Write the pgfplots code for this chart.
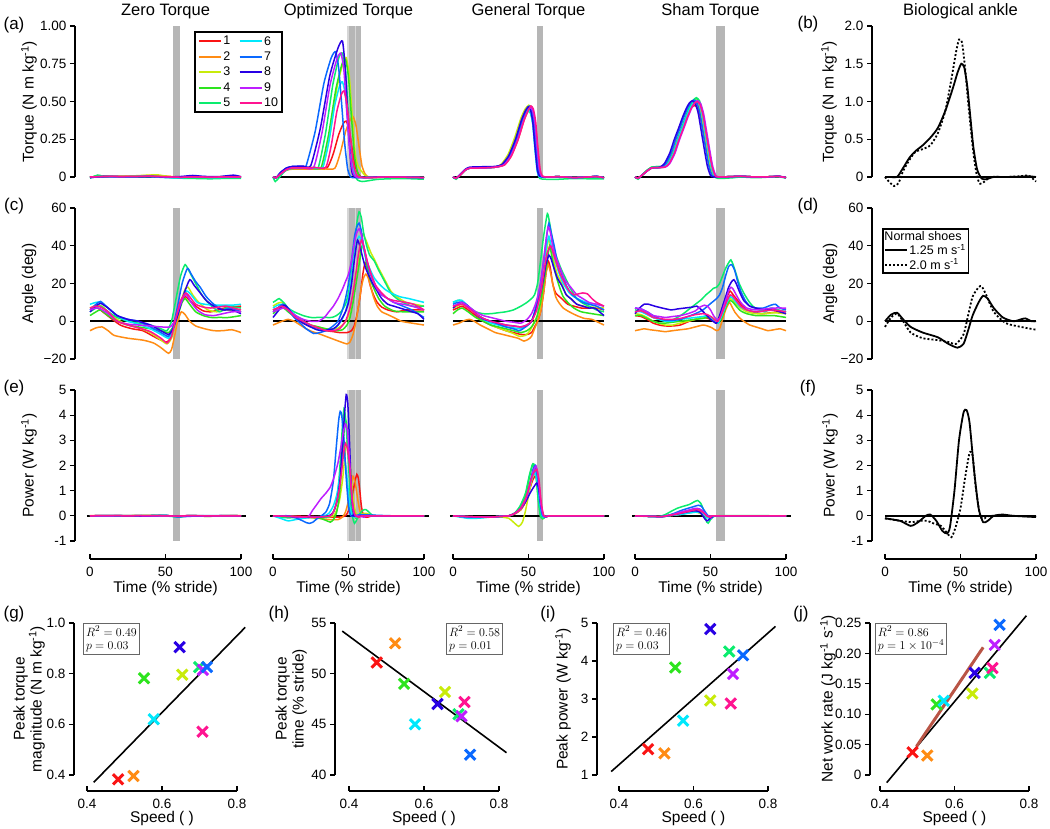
\documentclass[border=0pt]{standalone}
\usepackage{pgfplots}
\pgfplotsset{compat=1.18}
\usepackage{fontspec}
\setmainfont{Liberation Sans}
\definecolor{c1}{RGB}{250,20,20}
\definecolor{c2}{RGB}{255,140,20}
\definecolor{c3}{RGB}{200,235,10}
\definecolor{c4}{RGB}{45,228,30}
\definecolor{c5}{RGB}{10,236,110}
\definecolor{c6}{RGB}{0,232,252}
\definecolor{c7}{RGB}{10,105,255}
\definecolor{c8}{RGB}{40,0,228}
\definecolor{c9}{RGB}{190,30,255}
\definecolor{c10}{RGB}{255,20,145}
\definecolor{barg}{RGB}{182,182,182}
\definecolor{barl}{RGB}{214,214,214}
\definecolor{brownl}{RGB}{185,85,70}
\pgfplotsset{
  base/.style={scale only axis, clip=false, tick align=outside, major tick length=5pt,
    axis line style={line width=1.8pt, black},
    every tick/.style={black, line width=1.3pt},
    every major x tick/.append style={yshift=5pt},
    tick label style={font=\fontsize{13.5}{14}\selectfont},
    title style={font=\fontsize{16.5}{18}\selectfont, at={(0.5,1)}, anchor=base, yshift=4pt},
    /pgf/number format/assume math mode=true},
  tp/.style={base, width=151pt, height=151pt, xmin=0, xmax=100},
  ylab/.style={ylabel style={font=\fontsize{15.5}{17}\selectfont, at={([xshift=#1]axis description cs:0,0.5)}, anchor=center}},
  tx/.style={axis x line*=bottom, axis x line shift=18pt, xtick={0,50,100}, xticklabels={0,50,100},
    xlabel={Time (\% stride)}, xlabel style={font=\fontsize{15.5}{17}\selectfont, at={(axis description cs:0.5,0)}, anchor=base, yshift=-52pt}},
  cv/.style={line width=1.5pt, forget plot, smooth, tension=0.35},
  bar/.style={draw=none, fill=barg, forget plot},
  zl/.style={black, line width=1.8pt, forget plot},
  sc/.style={base, width=150pt, height=152pt, xmin=0.4, xmax=0.8, xtick={0.4,0.6,0.8}, xticklabels={0.4,0.6,0.8},
    axis x line*=bottom, axis y line*=left, axis x line shift=16pt,
    xlabel={Speed ( )}, xlabel style={font=\fontsize{15.5}{17}\selectfont, at={(axis description cs:0.5,0)}, anchor=base, yshift=-48pt}},
  mk/.style={only marks, mark=x, mark size=7.3pt, line width=3pt, forget plot},
  rl/.style={black, line width=1.6pt, forget plot},
}
\tikzset{rbox/.style={draw=black!60, line width=1.1pt, fill=white, align=left, inner sep=2.5pt, font=\fontsize{12.5}{13.5}\selectfont}}
\begin{document}
\begin{tikzpicture}[x=1pt,y=1pt]
\path[use as bounding box] (0,0) rectangle (1050,829);
\foreach \t/\x/\y in {(a)/14/804,(b)/808/805,(c)/14/623,(d)/808/623,(e)/14/441,(f)/808/441,(g)/14/215,(h)/279/215,(i)/548/215,(j)/801/215}
  {\node[font=\fontsize{17}{18}\selectfont] at (\x,\y) {\t};}

% ================= ROW 1 : TORQUE =================
\begin{axis}[tp, at={(90pt,652pt)}, anchor=south west, ymin=0, ymax=1, hide x axis, axis y line*=left, axis y line shift=15pt,
  ytick={0,0.25,0.5,0.75,1}, yticklabels={0,0.25,0.50,0.75,1.00}, ylabel={Torque (N m kg\textsuperscript{-1})}, ylab=-61pt, title={Zero Torque}]
\addplot[bar] coordinates {(55,0)(59.8,0)(59.8,1)(55,1)} -- cycle;
\addplot[zl] coordinates {(0,0)(100,0)};
\addplot[cv,c1] coordinates {(0,0)(10,0.003)(20,0.002)(30,0.004)(40,0.006)(50,0.004)(60,-0.003)(70,0)(80,-0.002)(90,0)(100,-0.002)};
\addplot[cv,c2] coordinates {(0,-0.002)(10,0.004)(20,0.005)(30,0.006)(40,0.01)(50,0.005)(60,0)(70,-0.004)(80,-0.003)(90,-0.002)(100,0)};
\addplot[cv,c3] coordinates {(0,0)(10,0.005)(20,0.004)(30,0.008)(40,0.013)(45,0.014)(50,0.006)(60,-0.005)(70,-0.003)(80,0)(90,0.002)(100,-0.003)};
\addplot[cv,c4] coordinates {(0,-0.005)(5,0.01)(10,0.004)(20,0)(30,0.003)(40,0.005)(50,0)(60,-0.006)(70,-0.005)(80,-0.008)(90,-0.006)(100,-0.007)};
\addplot[cv,c5] coordinates {(0,-0.008)(5,0.012)(10,0.003)(20,0.002)(30,0.001)(40,0.004)(50,-0.002)(60,-0.008)(70,-0.01)(80,-0.012)(90,-0.009)(100,-0.01)};
\addplot[cv,c6] coordinates {(0,0)(10,0.002)(20,0)(30,0.003)(40,0.002)(50,-0.004)(60,-0.006)(70,0)(80,-0.004)(90,-0.003)(100,-0.002)};
\addplot[cv,c7] coordinates {(0,-0.003)(10,0.002)(20,0.001)(30,0.002)(40,0.003)(50,-0.002)(60,-0.003)(68,0.006)(75,0.002)(85,0)(95,0.008)(100,0)};
\addplot[cv,c8] coordinates {(0,-0.004)(10,0.004)(20,0.003)(30,0.002)(40,0.004)(50,0)(60,0.003)(68,0.01)(75,0.004)(85,0.002)(95,0.012)(100,0.002)};
\addplot[cv,c9] coordinates {(0,0)(10,0.003)(20,0.002)(30,0.003)(40,0.004)(50,0.001)(60,-0.002)(70,0)(80,-0.002)(90,0)(100,-0.001)};
\addplot[cv,c10] coordinates {(0,0)(10,0.004)(20,0.003)(30,0.004)(40,0.005)(50,0.002)(60,-0.002)(70,0.001)(80,-0.001)(90,0.001)(100,0)};
\end{axis}

\begin{axis}[tp, at={(273pt,652pt)}, anchor=south west, ymin=0, ymax=1, hide axis, title={Optimized Torque},
  legend columns=2, legend cell align=left,
  legend style={at={(-0.52,0.965)}, anchor=north west, draw=black, line width=1.8pt, font=\fontsize{12.5}{12.5}\selectfont,
    inner sep=2.5pt, row sep=2pt, nodes={inner sep=1.6pt}, /tikz/every even column/.append style={column sep=7pt}},
  legend image code/.code={\draw[#1, line width=1.8pt] (0pt,0pt) -- (22pt,0pt);},
  legend entries={1,6,2,7,3,8,4,9,5,10}]
\addlegendimage{c1}\addlegendimage{c6}\addlegendimage{c2}\addlegendimage{c7}\addlegendimage{c3}
\addlegendimage{c8}\addlegendimage{c4}\addlegendimage{c9}\addlegendimage{c5}\addlegendimage{c10}
\addplot[bar] coordinates {(48.7,0)(58,0)(58,1)(48.7,1)} -- cycle;
\addplot[bar,fill=barl] coordinates {(49.3,0)(50,0)(50,1)(49.3,1)} -- cycle;
\addplot[bar,fill=barl] coordinates {(54,0)(54.6,0)(54.6,1)(54,1)} -- cycle;
\addplot[zl] coordinates {(0,0)(100,0)};
\addplot[cv,c1] coordinates {(0,0)(2,-0.005)(5,0.02)(9,0.05)(13,0.058)(20,0.058)(30,0.058)(36,0.062)(39.8,0.15)(43.5,0.28)(46.6,0.355)(48.5,0.37)(50.5,0.31)(52.5,0.18)(54.5,0.07)(56.5,0.02)(58.5,0)(62,-0.005)(75,0)(90,-0.003)(100,-0.005)};
\addplot[cv,c2] coordinates {(0,0)(2,-0.005)(5,0.02)(9,0.045)(13,0.052)(25,0.052)(35,0.053)(41,0.058)(44.6,0.16)(48.2,0.305)(51.2,0.38)(53,0.40)(55,0.34)(57,0.2)(59,0.07)(61,0.02)(63,0)(66,-0.005)(75,0)(90,-0.003)(100,-0.005)};
\addplot[cv,c3] coordinates {(0,0)(2,-0.005)(5,0.02)(9,0.05)(13,0.06)(20,0.06)(28,0.062)(33,0.065)(37.7,0.28)(42.3,0.59)(46.2,0.75)(48.5,0.79)(50.5,0.67)(52.5,0.4)(54.5,0.15)(56.5,0.07)(58.5,0.04)(61,0.01)(64,0)(75,0)(90,-0.003)(100,-0.005)};
\addplot[cv,c4] coordinates {(0,0)(2,-0.005)(5,0.02)(9,0.05)(13,0.06)(20,0.06)(28,0.062)(32,0.065)(36.8,0.28)(41.6,0.58)(45.6,0.745)(48,0.78)(50,0.66)(52,0.39)(54,0.14)(56,0.03)(58,0)(62,-0.005)(75,0)(90,-0.004)(100,-0.006)};
\addplot[cv,c5] coordinates {(0,0)(1.5,-0.03)(4,-0.005)(8,0.04)(12,0.055)(20,0.058)(26,0.06)(30,0.063)(34.8,0.29)(39.6,0.61)(43.6,0.79)(46,0.82)(48,0.70)(50,0.41)(52,0.15)(54,0.02)(56,-0.02)(59,-0.03)(63,-0.025)(70,-0.015)(85,-0.01)(100,-0.015)};
\addplot[cv,c6] coordinates {(0,0)(2,-0.005)(5,0.02)(9,0.05)(13,0.06)(20,0.06)(28,0.062)(33,0.065)(36.9,0.23)(40.8,0.47)(44,0.60)(46,0.63)(48,0.54)(50,0.32)(52,0.11)(54,0.02)(56,0)(62,-0.004)(75,0)(90,-0.002)(100,-0.004)};
\addplot[cv,c7] coordinates {(0,0)(2,-0.005)(5,0.03)(9,0.06)(13,0.07)(20,0.07)(22,0.075)(27.9,0.30)(33.7,0.62)(38.6,0.79)(41.5,0.83)(43.5,0.72)(45.5,0.48)(47.5,0.22)(49.5,0.05)(51.5,0)(55,-0.005)(75,0)(90,-0.002)(100,-0.004)};
\addplot[cv,c8] coordinates {(0,0)(2,-0.005)(5,0.03)(9,0.06)(13,0.07)(20,0.072)(25,0.075)(31.3,0.32)(37.6,0.67)(42.9,0.85)(46,0.90)(48,0.70)(50,0.30)(52,0.05)(54,0)(60,-0.003)(75,0)(90,-0.002)(100,-0.004)};
\addplot[cv,c9] coordinates {(0,0)(2,-0.005)(5,0.02)(9,0.05)(13,0.06)(20,0.06)(27,0.065)(32.4,0.29)(37.8,0.61)(42.3,0.78)(45,0.82)(47,0.70)(49,0.41)(51,0.15)(53,0.03)(55,0)(62,-0.004)(75,0)(90,-0.002)(100,-0.004)};
\addplot[cv,c10] coordinates {(0,0)(2,-0.005)(5,0.02)(9,0.05)(13,0.06)(20,0.06)(28,0.062)(35,0.065)(38.6,0.21)(42.2,0.43)(45.2,0.545)(47,0.57)(49,0.48)(51,0.29)(53,0.10)(55,0.02)(57,0)(62,-0.004)(75,0)(90,-0.002)(100,-0.004)};
\end{axis}

\begin{axis}[tp, at={(453pt,652pt)}, anchor=south west, ymin=0, ymax=1, hide axis, title={General Torque}]
\addplot[bar] coordinates {(55.4,0)(59.4,0)(59.4,1)(55.4,1)} -- cycle;
\addplot[zl] coordinates {(0,0)(100,0)};
\addplot[cv,c1] coordinates {(0,0)(2,-0.008)(5,0.015)(8,0.045)(11,0.058)(20,0.06)(28,0.065)(33.5,0.08)(38,0.14)(42.5,0.25)(46.5,0.38)(49,0.44)(51,0.47)(52.5,0.45)(54,0.37)(55.5,0.2)(57,0.05)(58.5,0.005)(62.5,0)(70,0.002)(80,-0.004)(90,0)(95,0.003)(100,-0.005)};
\addplot[cv,c2] coordinates {(0,0)(2,-0.008)(5,0.015)(8,0.045)(11,0.058)(20,0.06)(28,0.065)(34,0.08)(38.5,0.137)(43,0.245)(47,0.372)(49.5,0.431)(51.5,0.46)(53,0.441)(54.5,0.363)(56,0.196)(57.5,0.049)(59,0.005)(63,0)(70,0.002)(80,-0.004)(90,0)(95,0.003)(100,-0.005)};
\addplot[cv,c3] coordinates {(0,0)(2,-0.008)(5,0.015)(8,0.045)(11,0.058)(20,0.06)(28,0.065)(32,0.085)(36.5,0.15)(41,0.265)(45,0.39)(47.8,0.45)(50.2,0.475)(51.8,0.45)(53.4,0.37)(55,0.2)(56.5,0.05)(58,0.005)(62,0)(70,0.002)(80,-0.004)(90,0)(95,0.003)(100,-0.005)};
\addplot[cv,c4] coordinates {(0,0)(2,-0.01)(5,0.015)(8,0.045)(11,0.06)(20,0.062)(28,0.066)(32.5,0.08)(37,0.134)(41.5,0.24)(45.5,0.365)(48,0.422)(50,0.451)(51.5,0.432)(53,0.355)(54.5,0.192)(56,0.048)(57.5,0.005)(61.5,0)(70,0.002)(80,-0.004)(90,0)(95,0.003)(100,-0.005)};
\addplot[cv,c5] coordinates {(0,0)(2,-0.015)(5,0.015)(8,0.045)(11,0.06)(20,0.062)(28,0.066)(32.5,0.08)(37,0.13)(41.5,0.233)(45.5,0.353)(48,0.409)(50,0.437)(51.5,0.419)(53,0.344)(54.5,0.186)(56,0.04)(57.5,-0.01)(61.5,-0.015)(70,-0.015)(80,-0.01)(90,-0.012)(100,-0.012)};
\addplot[cv,c6] coordinates {(0,0)(2,-0.008)(5,0.015)(8,0.045)(11,0.058)(20,0.06)(28,0.065)(32.3,0.08)(36.8,0.133)(41.3,0.238)(45.3,0.361)(47.8,0.418)(49.8,0.447)(51.3,0.428)(52.8,0.35)(54.3,0.18)(55.8,0.035)(57.3,0)(61.3,0)(70,0.002)(80,-0.004)(90,0)(95,0.003)(100,-0.005)};
\addplot[cv,c7] coordinates {(0,0)(2,-0.008)(5,0.015)(8,0.045)(11,0.058)(20,0.06)(28,0.065)(33,0.08)(37.5,0.14)(42,0.25)(46,0.38)(48.5,0.44)(50.5,0.47)(52,0.45)(53.5,0.37)(55,0.20)(56.5,0.05)(58,0.005)(62,0)(70,0.002)(80,-0.004)(90,0)(95,0.005)(100,-0.005)};
\addplot[cv,c8] coordinates {(0,0)(2,-0.008)(5,0.02)(8,0.05)(11,0.065)(20,0.068)(28,0.07)(32.3,0.082)(36.8,0.139)(41.3,0.248)(45.3,0.376)(47.8,0.436)(49.8,0.465)(51.3,0.446)(52.8,0.366)(54.3,0.198)(55.8,0.05)(57.3,0.005)(61.3,0)(70,0.002)(80,-0.004)(90,0)(95,0.004)(100,-0.005)};
\addplot[cv,c9] coordinates {(0,0)(2,-0.008)(5,0.015)(8,0.045)(11,0.058)(20,0.06)(28,0.065)(33.7,0.08)(38.2,0.137)(42.7,0.245)(46.7,0.372)(49.2,0.431)(51.2,0.46)(52.7,0.441)(54.2,0.363)(55.7,0.196)(57.2,0.049)(58.7,0.005)(62.7,0)(70,0.002)(80,-0.004)(90,0)(95,0.003)(100,-0.005)};
\addplot[cv,c10] coordinates {(0,0)(2,-0.008)(5,0.015)(8,0.045)(11,0.058)(20,0.06)(28,0.065)(34.2,0.08)(38.7,0.14)(43.2,0.25)(47.2,0.38)(49.7,0.44)(51.7,0.47)(53.2,0.45)(54.7,0.37)(56.2,0.2)(57.7,0.05)(59.2,0.005)(63.2,0)(70,0.002)(80,-0.004)(90,0)(95,0.003)(100,-0.005)};
\end{axis}

\begin{axis}[tp, at={(635pt,652pt)}, anchor=south west, ymin=0, ymax=1, hide axis, title={Sham Torque}]
\addplot[bar] coordinates {(53.7,0)(59.9,0)(59.9,1)(53.7,1)} -- cycle;
\addplot[zl] coordinates {(0,0)(100,0)};
\addplot[cv,c1] coordinates {(0,0)(2,-0.008)(5,0.015)(8,0.04)(11,0.06)(14,0.062)(18,0.065)(21,0.084)(24.5,0.149)(27.5,0.233)(30.5,0.307)(33,0.372)(35.5,0.428)(37.5,0.46)(39.5,0.474)(41.5,0.456)(43.5,0.39)(46,0.251)(48,0.14)(49.5,0.065)(51.5,0.01)(54,0)(65,0.003)(70,0.005)(80,0)(90,0.002)(95,0.004)(100,-0.004)};
\addplot[cv,c2] coordinates {(0,0)(2,-0.008)(5,0.015)(8,0.04)(11,0.06)(14,0.062)(18.5,0.065)(21.5,0.086)(25,0.154)(28,0.24)(31,0.317)(33.5,0.384)(36,0.442)(38,0.475)(40,0.49)(42,0.47)(44,0.403)(46.5,0.259)(48.5,0.144)(50,0.067)(52,0.01)(54.5,0)(65,0.003)(70,0.005)(80,0)(90,0.002)(95,0.004)(100,-0.004)};
\addplot[cv,c3] coordinates {(0,0)(2,-0.008)(5,0.015)(8,0.04)(11,0.06)(14,0.062)(18.5,0.065)(21.5,0.088)(25,0.157)(28,0.245)(31,0.323)(33.5,0.392)(36,0.451)(38,0.485)(40,0.50)(42,0.48)(44,0.412)(46.5,0.265)(48.5,0.147)(50,0.069)(52,0.01)(54.5,0)(65,0.003)(70,0.005)(80,0)(90,0.002)(95,0.004)(100,-0.004)};
\addplot[cv,c4] coordinates {(0,0)(2,-0.01)(5,0.015)(8,0.045)(11,0.065)(14,0.068)(19,0.07)(22,0.092)(25.5,0.163)(28.5,0.255)(31.5,0.337)(34,0.408)(36.5,0.469)(38.5,0.505)(40.5,0.52)(42.5,0.50)(44.5,0.428)(47,0.275)(49,0.153)(50.5,0.071)(52.5,0.01)(55,0)(65,0.003)(70,0.005)(80,0)(90,0.002)(95,0.004)(100,-0.004)};
\addplot[cv,c5] coordinates {(0,0)(2,-0.015)(5,0.015)(8,0.045)(11,0.065)(14,0.068)(19.2,0.07)(22.2,0.093)(25.7,0.165)(28.7,0.258)(31.7,0.34)(34.2,0.412)(36.7,0.474)(38.7,0.51)(40.7,0.525)(42.7,0.505)(44.7,0.433)(47.2,0.278)(49.2,0.155)(50.7,0.072)(52.7,0.005)(55.2,-0.01)(65,-0.005)(70,0)(80,-0.005)(90,0)(95,0.002)(100,-0.008)};
\addplot[cv,c6] coordinates {(0,0)(2,-0.008)(5,0.015)(8,0.04)(11,0.06)(14,0.062)(19,0.065)(22,0.089)(25.5,0.158)(28.5,0.248)(31.5,0.327)(34,0.396)(36.5,0.455)(38.5,0.49)(40.5,0.505)(42.5,0.485)(44.5,0.416)(47,0.267)(49,0.149)(50.5,0.069)(52.5,0.01)(55,0)(65,0.003)(70,0.005)(80,0)(90,0.002)(95,0.004)(100,-0.004)};
\addplot[cv,c7] coordinates {(0,0)(2,-0.008)(5,0.015)(8,0.04)(11,0.06)(14,0.062)(17.5,0.065)(20.5,0.09)(24,0.16)(27,0.25)(30,0.33)(32.5,0.40)(35,0.46)(37,0.495)(39,0.51)(41,0.49)(43,0.42)(45.5,0.27)(47.5,0.15)(49,0.07)(51,0.01)(53.5,0)(65,0.003)(70,0.005)(80,0)(90,0.002)(95,0.004)(100,-0.004)};
\addplot[cv,c8] coordinates {(0,0)(2,-0.008)(5,0.015)(8,0.04)(11,0.06)(14,0.062)(16.5,0.065)(19.5,0.089)(23,0.158)(26,0.248)(29,0.327)(31.5,0.396)(34,0.455)(36,0.49)(38,0.505)(40,0.485)(42,0.416)(44.5,0.267)(46.5,0.149)(48,0.069)(50,0.01)(52.5,0)(65,0.003)(70,0.005)(80,0)(90,0.002)(95,0.006)(100,-0.004)};
\addplot[cv,c9] coordinates {(0,0)(2,-0.008)(5,0.015)(8,0.04)(11,0.06)(14,0.062)(20,0.065)(23,0.089)(26.5,0.158)(29.5,0.248)(32.5,0.327)(35,0.396)(37.5,0.455)(39.5,0.49)(41.5,0.505)(43.5,0.485)(45.5,0.416)(48,0.267)(50,0.149)(51.5,0.069)(53.5,0.01)(56,0)(65,0.003)(70,0.005)(80,0)(90,0.002)(95,0.004)(100,-0.004)};
\addplot[cv,c10] coordinates {(0,0)(2,-0.008)(5,0.015)(8,0.04)(11,0.06)(14,0.062)(19.5,0.065)(22.5,0.088)(26,0.157)(29,0.245)(32,0.323)(34.5,0.392)(37,0.451)(39,0.485)(41,0.50)(43,0.48)(45,0.412)(47.5,0.265)(49.5,0.147)(51,0.069)(53,0.01)(55.5,0)(65,0.003)(70,0.005)(80,0)(90,0.002)(95,0.004)(100,-0.004)};
\end{axis}

\begin{axis}[tp, at={(885pt,652pt)}, anchor=south west, ymin=0, ymax=2, hide x axis, axis y line*=left, axis y line shift=13pt,
  ytick={0,0.5,1,1.5,2}, yticklabels={0,0.5,1.0,1.5,2.0}, ylabel={Torque (N m kg\textsuperscript{-1})}, ylab=-56pt, title={Biological ankle}]
\addplot[zl] coordinates {(0,0)(100,0)};
\addplot[black, line width=1.8pt, smooth, tension=0.4] coordinates {(0,0)(4,0)(8,0)(12,0.12)(16,0.25)(20,0.34)(25,0.42)(30,0.52)(35,0.65)(40,0.88)(45,1.18)(48,1.38)(50.5,1.5)(52.5,1.45)(54.5,1.2)(56.5,0.8)(58.5,0.4)(61,0.1)(64,-0.02)(67,-0.03)(72,0)(80,0)(90,0.005)(95,0.01)(100,0)};
\addplot[black, line width=1.8pt, dash pattern=on 2pt off 2pt, smooth, tension=0.4] coordinates {(0,0)(3,-0.07)(6,-0.12)(9,-0.08)(12,0.08)(16,0.22)(20,0.33)(25,0.37)(30,0.42)(35,0.58)(40,0.88)(44,1.3)(47,1.65)(49,1.82)(51,1.78)(53,1.45)(55,1.0)(57,0.6)(59,0.25)(61,0)(63,-0.09)(66,-0.06)(70,0)(80,0)(90,0.01)(95,0.02)(100,-0.06)};
\end{axis}

% ================= ROW 2 : ANGLE =================
\begin{axis}[tp, at={(90pt,470pt)}, anchor=south west, ymin=-20, ymax=60, hide x axis, axis y line*=left, axis y line shift=15pt,
  ytick={-20,0,20,40,60}, yticklabels={−20,0,20,40,60}, ylabel={Angle (deg)}, ylab=-61pt]
\addplot[bar] coordinates {(55,-20)(59.8,-20)(59.8,60)(55,60)} -- cycle;
\addplot[zl] coordinates {(0,0)(100,0)};
\addplot[cv,c1] coordinates {(0,7)(5,7)(10,4)(20,-2)(28,-4)(35,-5)(42,-8)(47,-10)(51,-11)(54,-8)(57,0)(60,9)(63,13)(66,11)(70,8)(75,5.5)(80,5)(85,6)(89,7)(94,7.5)(100,8)};
\addplot[cv,c2] coordinates {(0,-5)(4,-3.5)(8,-3)(12,-5)(16,-7.5)(25,-9)(35,-10)(42,-11.5)(47,-14)(52,-17)(54,-15)(56,-8)(58,0)(60.5,5)(63,3.5)(66,0)(70,-2.5)(76,-4)(82,-5)(88,-5)(94,-4.5)(100,-6)};
\addplot[cv,c3] coordinates {(0,7)(4,8.5)(8,8)(12,5)(18,1)(25,-2)(32,-3.5)(40,-6)(47,-10)(51,-12)(54,-9)(57,0)(60,10)(63,17)(65,18)(68,14)(72,10)(78,6)(84,5)(90,6)(95,5.5)(100,5)};
\addplot[cv,c4] coordinates {(0,3)(4,5)(7,6)(12,3)(18,0)(25,-2)(32,-3)(40,-4)(47,-5)(52,-6)(55,-3)(58,3)(61,10)(63,12)(66,9)(70,5)(75,3)(80,2)(86,2)(92,2)(100,3)};
\addplot[cv,c5] coordinates {(0,5)(4,7)(7,8)(12,5)(18,2)(25,0)(32,-1)(40,-2)(47,-4)(51,-5)(54,0)(57,12)(60,24)(63,30)(66,26)(70,20)(74,14)(78,10)(82,7)(86,5)(90,7)(95,7.5)(100,7)};
\addplot[cv,c6] coordinates {(0,9)(4,10)(7,10)(12,7)(18,3)(25,0)(32,-1.5)(40,-4)(47,-7)(52,-9)(55,-5)(58,4)(61,12)(64,16)(67,14)(71,10)(76,9)(82,8.5)(88,8.5)(94,8.5)(100,9)};
\addplot[cv,c7] coordinates {(0,6)(4,9)(7,10.5)(12,7)(18,3)(25,1)(32,0)(40,-3)(47,-6)(52,-8)(55,-3)(58,8)(61,20)(64.5,28)(67,25)(70,21)(73,18)(77,13)(82,9)(88,6)(93,7)(100,5)};
\addplot[cv,c8] coordinates {(0,5)(4,8)(7,9.5)(12,7)(18,3)(25,1)(32,0)(40,-2)(47,-5)(52,-7)(55,-4)(58,3)(62,14)(66,22)(69,19)(73,15)(77,11)(82,8)(88,6)(94,6)(100,4)};
\addplot[cv,c9] coordinates {(0,6)(4,7)(7,6.5)(12,4)(18,0)(25,-1.5)(32,-2)(40,-2.5)(47,-3)(53,-3)(56,0)(59,7)(62,13)(64,14)(67,10)(71,6)(76,3.5)(82,3)(88,4)(94,5)(100,5)};
\addplot[cv,c10] coordinates {(0,7)(4,8)(7,7.5)(12,5)(18,0)(25,-2)(32,-3.5)(40,-5.5)(47,-9)(51,-11.5)(54,-8)(57,2)(60,11)(63.5,15)(66,13)(70,9)(75,7.5)(80,7)(85,7.5)(90,8)(95,7)(100,6)};
\end{axis}

\begin{axis}[tp, at={(273pt,470pt)}, anchor=south west, ymin=-20, ymax=60, hide axis]
\addplot[bar] coordinates {(48.7,-20)(58,-20)(58,60)(48.7,60)} -- cycle;
\addplot[bar,fill=barl] coordinates {(49.3,-20)(50,-20)(50,60)(49.3,60)} -- cycle;
\addplot[bar,fill=barl] coordinates {(54,-20)(54.6,-20)(54.6,60)(54,60)} -- cycle;
\addplot[zl] coordinates {(0,0)(100,0)};
\addplot[cv,c1] coordinates {(0,6)(3,7)(6,8)(10,6)(15,2)(20,-1)(25,-3)(30,-4)(35,-5)(40,-5.5)(44,-6)(49,-6)(52,-5)(54,-2)(56,5)(58,15)(59.5,25)(61,31)(62.5,28)(64,20)(66.5,14)(69,10)(72,7.5)(76,6)(82,5)(88,6)(94,6)(100,6)};
\addplot[cv,c2] coordinates {(0,-2)(3,-1)(6,0)(10,1)(14,0)(18,-2)(22,-4)(26,-5.5)(30,-6.5)(35,-8)(40,-9.5)(45,-11)(49,-12)(51,-11)(53,-7)(55,0)(57,10)(58.5,18)(60,23)(61.5,25)(63,23)(64.5,19)(66.5,13)(69,8)(72,5)(76,3.5)(80,2)(85,0)(92,-1)(100,-2)};
\addplot[cv,c3] coordinates {(0,8)(3,9.5)(6,10)(10,7)(14,3)(20,0)(25,-2)(30,-3)(35,-4)(42,-4)(46,-2)(49,1)(51,6)(53,15)(55,25)(57,35)(59,46)(61,44)(63,40)(65,36)(67,33)(70,28)(74,22)(78,16)(82,13)(88,10)(94,9)(100,8)};
\addplot[cv,c4] coordinates {(0,4)(3,6)(7,7)(10,5)(15,2)(20,0)(25,-2)(30,-3)(35,-4)(42,-5)(46,-4.5)(49,-2)(51,2)(53,10)(55,20)(57,30)(59,40)(60.5,38)(62,30)(64,23)(67,17)(70,12)(74,8)(80,5.5)(86,5)(92,5)(100,5)};
\addplot[cv,c5] coordinates {(0,10)(2,11)(4,12)(7,10)(10,7)(14,5)(20,3)(25,2)(30,2)(35,2)(39,2)(42,3)(45,5)(48,9)(50,15)(52,25)(54,40)(55.5,52)(57,58)(58.5,55)(60,47)(62,40)(64,35)(67,32)(70,27)(74,21)(78,15)(82,12)(86,10)(92,8)(100,8)};
\addplot[cv,c6] coordinates {(0,7)(3,8.5)(6,9)(10,7)(15,3)(20,0)(25,-3)(30,-4.5)(35,-5)(39,-4.5)(42,-3)(45,0)(48,5)(50,12)(52,23)(53.5,33)(55.5,42)(57,45)(58.5,43)(60,38)(62,32)(64,28)(67,23)(70,20)(74,17)(78,15)(84,13)(90,12)(95,11)(100,10)};
\addplot[cv,c7] coordinates {(0,5)(3,7)(6.5,9)(10,6)(14,2)(18,-1)(22,-4)(27,-6.5)(31,-6)(35,-5)(39,-3)(43,0)(46,6)(48,12)(50,20)(52,32)(54,45)(55.5,50)(57,52)(58.5,48)(60,40)(62,32)(64,26)(66,22)(69,17)(72,14)(76,12)(80,10)(86,8)(92,6)(96,4)(100,2)};
\addplot[cv,c8] coordinates {(0,2)(3,5)(6,8)(8,8.5)(11,6)(15,2)(20,-1)(25,-3)(29,-4.5)(33,-5)(37,-4.5)(40,-4)(43,-2)(46,2)(48,5)(50,10)(52,20)(53.5,30)(55,39)(56,43)(57.5,40)(59,35)(61,29)(63,25)(66,20)(69,16)(72,12)(76,9)(80,8)(86,6.5)(92,5)(96,4)(100,1)};
\addplot[cv,c9] coordinates {(0,5)(3,6)(7,7)(10,6)(15,3)(20,1)(25,0)(30,0)(34,2)(37,5)(40,8)(43,12)(46,17)(48,21)(50,25)(52,32)(54,42)(55.5,47)(57,49)(58.5,46)(60,40)(62,33)(64,27)(66,22)(69,17)(72,14)(76,12)(80,10)(86,9)(92,8)(100,6)};
\addplot[cv,c10] coordinates {(0,6)(3,7)(6,8)(10,6)(15,2)(20,0)(25,-2)(30,-3.5)(35,-5)(40,-5)(44,-4)(48,0)(51,7)(53,15)(55,26)(56.5,35)(58.5,43)(60,40)(61.5,35)(63,30)(65,25)(68,19)(72,15)(76,12)(80,11)(84,10.5)(88,10)(93,9)(97,7.5)(100,6)};
\end{axis}

\begin{axis}[tp, at={(453pt,470pt)}, anchor=south west, ymin=-20, ymax=60, hide axis]
\addplot[bar] coordinates {(55.4,-20)(59.4,-20)(59.4,60)(55.4,60)} -- cycle;
\addplot[zl] coordinates {(0,0)(100,0)};
\addplot[cv,c1] coordinates {(0,6)(3,7)(6,8)(10,6)(15,3)(20,0)(25,-2)(30,-3.5)(35,-5)(40,-6)(45,-7)(49,-7)(52,-6)(54,-3)(56,0)(58,5)(60,15)(61.5,25)(63,32)(64.5,28)(66,20)(68,15)(72,12)(76,9)(80,8)(85,7)(90,7)(95,7)(100,6)};
\addplot[cv,c2] coordinates {(0,-2)(4,-1)(8,0.5)(11,1)(14,0)(18,-2)(23,-4)(28,-6)(33,-7)(38,-8)(43,-9)(47,-10.5)(50,-9.5)(52,-8)(54,-4)(56,0)(58,5)(60,15)(61.5,25)(63,30)(64.5,26)(66,20)(68,13)(70,10)(73,7)(77,5)(82,3)(87,1.5)(92,1)(96,-0.5)(100,-2)};
\addplot[cv,c3] coordinates {(0,7)(3,8)(6,9)(10,7)(15,4)(20,1)(25,-2)(30,-3.5)(35,-5)(40,-6.5)(44,-8)(48,-7.5)(51,-5)(54,0)(57,5)(59,15)(61,30)(62.5,40)(63.5,44)(65,38)(66.5,33)(69,25)(72,20)(75,14)(78,12)(82,9)(86,8)(92,7.5)(100,7)};
\addplot[cv,c4] coordinates {(0,4)(3,6)(6,7)(10,5)(15,2)(20,0)(25,-2)(30,-3)(35,-4)(40,-5)(45,-6)(49,-5)(52,-3)(55,1)(58,10)(60,20)(62,30)(64,40)(65.5,34)(67,28)(69,22)(71,17)(73,13)(76,10)(80,7)(85,5)(92,4)(100,3)};
\addplot[cv,c5] coordinates {(0,10)(3,11)(5.5,11)(10,8)(15,5)(20,4)(25,4)(30,4.5)(35,5)(40,6)(45,8)(49,10)(52,12)(54,14)(56,20)(58,32)(60,45)(62.5,57)(64,52)(65.5,45)(67,38)(69.5,32)(72,27)(75,22)(78,17)(82,12)(86,9.5)(90,8)(95,6)(100,5)};
\addplot[cv,c6] coordinates {(0,10)(3,11)(6,11)(10,8)(15,4)(20,1)(25,-1)(30,-2)(35,-3)(40,-3.5)(44,-4)(48,-3)(52,0)(55,7)(58,20)(60,30)(62,40)(63.5,45)(65,40)(67,34)(70,26)(73,20)(77,15)(80,13)(85,11)(90,9.5)(95,9)(100,8)};
\addplot[cv,c7] coordinates {(0,9)(3,10)(6,10)(10,8)(15,4)(20,1)(25,0)(30,-1.5)(35,-3)(40,-4)(44,-5)(48,-3)(52,0)(55,8)(58,20)(60,32)(62,45)(63.5,52)(65,47)(67,40)(69,32)(72,25)(75,19)(78,15)(82,12)(86,10)(90,9)(95,8)(100,6)};
\addplot[cv,c8] coordinates {(0,7)(3,9)(6,10)(10,8)(15,4)(20,1.5)(25,0)(30,-1)(35,-2)(40,-2.5)(45,-3)(49,-2)(52,0)(55,6)(58,15)(60,23)(61.5,30)(63.5,35)(65,33)(66.5,29)(69,23)(72,19)(75,14)(78,12)(82,9)(86,8)(90,7)(94,7)(97,5)(100,3)};
\addplot[cv,c9] coordinates {(0,8)(3,9)(6,10)(10,8)(15,5)(20,3)(25,2)(30,1)(35,0)(40,-0.5)(45,-1)(49,1)(52,4)(55,10)(58,20)(60,32)(61.5,42)(63,50)(64.5,47)(66,40)(68,34)(71,28)(74,22)(78,18)(82,14)(86,12)(90,10)(95,9)(100,8)};
\addplot[cv,c10] coordinates {(0,8)(3,8.5)(6,9)(10,7)(15,4)(20,1.5)(25,0)(30,-1)(35,-2)(40,-2.5)(45,-3)(49,-2)(52,0)(55,5)(58,15)(60,25)(62,35)(64.5,40)(66,37)(68,32)(71,25)(74,20)(77,16)(80,14)(83,14.5)(86,15)(89,14.5)(92,12)(95,10)(100,8)};
\end{axis}

\begin{axis}[tp, at={(635pt,470pt)}, anchor=south west, ymin=-20, ymax=60, hide axis]
\addplot[bar] coordinates {(53.7,-20)(59.9,-20)(59.9,60)(53.7,60)} -- cycle;
\addplot[zl] coordinates {(0,0)(100,0)};
\addplot[cv,c1] coordinates {(0,3)(4,2.5)(8,1)(12,-1)(16,-2)(20,-2.5)(25,-2.5)(30,-2)(36,0)(42,1.5)(46,2)(50,1)(53,-0.5)(55,-1)(57,3)(59,8)(61,13)(63,16)(65,14)(67,12)(70,9)(74,6)(78,5)(84,4)(90,4.5)(95,5)(100,4)};
\addplot[cv,c2] coordinates {(0,-5)(3,-4.5)(6,-4)(10,-4.5)(15,-5)(20,-5.5)(25,-5)(30,-4.5)(35,-4)(40,-3)(45,-2)(48,-2.5)(51,-3.5)(54,-5)(56,-4)(58,1)(60,6)(62.5,10)(64,8)(66,5)(69,2)(72,0)(76,-2)(80,-3)(84,-4)(88,-5)(92,-4.5)(96,-4)(100,-5)};
\addplot[cv,c3] coordinates {(0,4)(4,3.5)(8,2)(12,0)(16,-1)(20,-2)(25,-2)(30,-1)(35,0)(40,1)(45,2)(48,3)(51,2)(53,1)(55,0)(57,3)(59,6)(61,10)(63,12)(65,11)(67,9)(70,7)(74,5)(80,4)(86,4)(92,4.5)(100,4)};
\addplot[cv,c4] coordinates {(0,3)(4,3)(8,1.5)(12,0)(16,-1)(20,-1)(25,-0.5)(30,0)(35,0.5)(40,1)(45,1.5)(48,2)(51,1)(53,0)(55,-1)(57,1)(59,5)(61,9)(63,11)(65,10)(67,8)(70,5.5)(74,4)(80,3)(86,3)(92,3)(100,2)};
\addplot[cv,c5] coordinates {(0,6)(4,5.5)(8,4)(12,2)(16,1)(20,0)(24,0.5)(28,2)(32,4)(36,6.5)(40,9)(44,11.5)(47,14)(50,16)(52,17.5)(54,18)(56,20)(58,24)(60,28)(62,31)(63.5,32.5)(65,30)(67,25)(69,20)(72,15)(75,11)(78,8)(82,6)(86,5)(90,7)(95,6)(100,5)};
\addplot[cv,c6] coordinates {(0,5)(4,5)(8,3.5)(12,2)(16,1)(20,0)(25,0)(30,1)(35,1.5)(40,2)(45,2.5)(48,3)(51,1.5)(53,0)(55,-1)(57,2)(59,6)(61,10)(63,13)(65,12)(67,10)(70,7.5)(74,6)(80,5)(86,5.5)(92,6)(100,5)};
\addplot[cv,c7] coordinates {(0,7)(4,6.5)(8,5)(12,3)(16,1.5)(20,0.5)(25,0.5)(30,1)(35,2.5)(40,4)(45,6)(48,8)(51,10)(54,12)(56,14)(58,18)(60,24)(62,29)(64,30)(66,27)(68,21)(70,16)(73,11)(76,8)(80,7)(85,7)(90,8.5)(93,9)(96,7)(100,6)};
\addplot[cv,c8] coordinates {(0,4)(3,7)(6,9)(9,9)(13,8)(18,7)(24,6)(28,6.5)(33,7)(38,7.5)(41,8)(44,6)(47,3.5)(50,1)(52.5,-0.5)(54,-1)(56,3)(58,8)(60,13)(62,18)(64,21)(65.5,22)(67,20)(69,16)(72,11)(76,8)(80,7)(86,6)(92,6)(96,5)(100,4)};
\addplot[cv,c9] coordinates {(0,7)(4,6.5)(8,5)(12,3)(16,2.5)(20,2)(25,2.5)(30,3)(35,4)(40,5.5)(43,7.5)(46,8.5)(48,8)(50,6)(52,3)(54,1)(56,1.5)(58,6)(60,11)(62,16)(63.5,18)(65,17)(67,14)(70,10)(74,7)(80,6)(86,6.5)(92,7)(100,7)};
\addplot[cv,c10] coordinates {(0,5)(4,5.5)(8,4)(12,2)(16,1.5)(20,1)(25,1)(30,1.5)(35,2.5)(40,3.5)(45,4)(48,3.5)(51,2)(53,0.5)(55,0)(57,3)(59,7)(61,11)(63,14)(65,13)(67,11)(70,8)(74,6)(80,5)(86,5.5)(92,6)(100,5)};
\end{axis}

\begin{axis}[tp, at={(885pt,470pt)}, anchor=south west, ymin=-20, ymax=60, hide x axis, axis y line*=left, axis y line shift=13pt,
  ytick={-20,0,20,40,60}, yticklabels={−20,0,20,40,60}, ylabel={Angle (deg)}, ylab=-55pt,
  legend cell align=left,
  legend style={at={(-0.02,0.868)}, anchor=north west, draw=black, line width=1.8pt, font=\fontsize{12.5}{12.5}\selectfont,
    inner sep=1.5pt, nodes={inner sep=1.2pt}},
  legend entries={\hspace*{-25pt}Normal shoes,1.25 m s\textsuperscript{-1},2.0 m s\textsuperscript{-1}}]
\addlegendimage{empty legend}
\addlegendimage{legend image code/.code={\draw[black, line width=1.9pt] (0pt,0pt) -- (22pt,0pt);}}
\addlegendimage{legend image code/.code={\draw[black, line width=1.9pt, dash pattern=on 2pt off 2pt] (0pt,0pt) -- (22pt,0pt);}}
\addplot[zl] coordinates {(0,0)(100,0)};
\addplot[black, line width=1.8pt, smooth, tension=0.4, forget plot] coordinates {(0,0)(4,3.5)(8,4.5)(12,1)(17,-3)(25,-6)(35,-8.5)(42,-12)(48,-14)(52,-12)(55,-5)(58,3)(62,10)(65,13.5)(68,12)(72,7)(78,2)(85,0)(90,1)(93,1.5)(97,0)(100,0)};
\addplot[black, line width=1.8pt, dash pattern=on 2pt off 2pt, smooth, tension=0.4, forget plot] coordinates {(0,-3)(4,2)(8,4)(12,0)(17,-6)(25,-9)(35,-10)(42,-11)(47,-12)(52,-7)(55,3)(58,13)(62,18)(64,18.5)(67,14)(72,5)(80,-1)(90,-3)(100,-4.5)};
\end{axis}

% ================= ROW 3 : POWER =================
\begin{axis}[tp, tx, at={(90pt,288pt)}, anchor=south west, ymin=-1, ymax=5, axis y line*=left, axis y line shift=15pt,
  ytick={-1,0,1,2,3,4,5}, yticklabels={-1,0,1,2,3,4,5}, ylabel={Power (W kg\textsuperscript{-1})}, ylab=-61pt]
\addplot[bar] coordinates {(55,-1)(59.8,-1)(59.8,5)(55,5)} -- cycle;
\addplot[zl] coordinates {(-2,0)(103,0)};
\addplot[cv,c1] coordinates {(0,0)(12,0.01)(25,0)(38,0.01)(50,0)(58,-0.02)(66,0.01)(78,-0.01)(90,0.01)(100,0)};
\addplot[cv,c2] coordinates {(0,0.01)(12,0)(25,0.01)(38,-0.01)(50,0.01)(58,-0.03)(66,0)(78,-0.02)(90,0)(100,0.01)};
\addplot[cv,c3] coordinates {(0,0)(12,-0.01)(25,0.01)(38,0.02)(50,0)(58,-0.02)(66,-0.01)(78,0)(90,-0.01)(100,0)};
\addplot[cv,c4] coordinates {(0,-0.01)(12,0.01)(25,0)(38,0)(50,0.01)(58,-0.04)(66,0.01)(78,-0.01)(90,0)(100,0)};
\addplot[cv,c5] coordinates {(0,0)(12,0)(25,-0.01)(38,0.01)(50,0.02)(58,-0.05)(66,0)(78,-0.02)(90,0.01)(100,0)};
\addplot[cv,c6] coordinates {(0,0)(12,0.01)(25,0.01)(38,0)(50,-0.01)(58,-0.03)(66,0.01)(78,0)(90,-0.01)(100,0)};
\addplot[cv,c7] coordinates {(0,0)(12,0)(25,0)(38,0.01)(50,0.02)(58,-0.04)(66,-0.02)(78,0.01)(90,0)(100,-0.01)};
\addplot[cv,c8] coordinates {(0,0)(12,0.01)(25,0)(38,-0.01)(50,0.01)(58,-0.02)(66,0.01)(78,-0.01)(90,0.01)(100,0)};
\addplot[cv,c9] coordinates {(0,0)(12,0)(25,0.01)(38,0)(50,0)(58,-0.02)(66,0)(78,0)(90,0)(100,0)};
\addplot[cv,c10] coordinates {(0,0)(12,0.01)(25,0)(38,0.01)(50,0)(58,-0.01)(66,0.01)(78,0)(90,0)(100,0)};
\end{axis}

\begin{axis}[tp, tx, at={(273pt,288pt)}, anchor=south west, ymin=-1, ymax=5, hide y axis]
\addplot[bar] coordinates {(48.7,-1)(58,-1)(58,5)(48.7,5)} -- cycle;
\addplot[bar,fill=barl] coordinates {(49.3,-1)(50,-1)(50,5)(49.3,5)} -- cycle;
\addplot[bar,fill=barl] coordinates {(54,-1)(54.6,-1)(54.6,5)(54,5)} -- cycle;
\addplot[zl] coordinates {(-2,0)(103,0)};
\addplot[cv,c1] coordinates {(0,0)(10,0)(20,-0.02)(30,-0.03)(38,-0.05)(44,-0.05)(48,0)(50,0.2)(52,0.6)(54,1.3)(55.5,1.65)(56.5,1.5)(57.5,1.0)(58.5,0.4)(59.5,0.1)(61,-0.05)(63,-0.05)(66,0)(80,0)(100,0)};
\addplot[cv,c2] coordinates {(0,0)(10,-0.02)(20,-0.05)(30,-0.1)(38,-0.15)(43,-0.15)(46,-0.05)(48,0.15)(50,0.6)(51.5,1.1)(53,1.57)(54.5,1.3)(56,0.7)(57.5,0.2)(59,0.05)(62,0)(80,0)(100,0)};
\addplot[cv,c3] coordinates {(0,0)(10,-0.02)(20,-0.05)(30,-0.05)(36,-0.05)(40,0)(42,0.2)(44,0.6)(46,1.4)(47.5,2.3)(49,2.97)(50.5,2.5)(52,1.4)(53.5,0.5)(55,0.1)(57,0.05)(60,0.1)(62,0.1)(65,0.02)(70,0)(100,0)};
\addplot[cv,c4] coordinates {(0,0)(10,-0.02)(20,-0.05)(30,-0.08)(35,-0.18)(38,-0.25)(40,-0.15)(42,0.1)(44,0.8)(46,2.4)(47,3.3)(48,3.82)(49,3.5)(50.5,2.2)(52,0.8)(53.5,0.1)(55,-0.1)(57,-0.05)(60,0)(100,0)};
\addplot[cv,c5] coordinates {(0,0)(5,-0.05)(10,-0.08)(20,-0.05)(30,-0.05)(36,-0.05)(39,0.05)(41.5,0.4)(43.5,1.3)(45,2.6)(46,3.6)(47,4.25)(48,3.9)(49.5,2.6)(51,1.0)(52.5,0)(54,-0.3)(55.5,-0.15)(57,0.05)(59.5,0.22)(61.5,0.25)(63.5,0.15)(66,0.02)(70,0)(100,0)};
\addplot[cv,c6] coordinates {(0,0)(5,-0.1)(10,-0.2)(15,-0.15)(20,-0.1)(28,-0.05)(34,0)(37,0.1)(40,0.4)(42.5,0.9)(44.5,1.7)(46.5,2.43)(48,2.1)(49.5,1.2)(51,0.35)(52.5,0)(55,-0.05)(60,0)(100,0)};
\addplot[cv,c7] coordinates {(0,0)(5,0)(10,0)(15,-0.08)(19,-0.18)(22,-0.27)(24,-0.3)(26.5,-0.25)(29,-0.12)(32,0)(35,0.15)(37.5,0.5)(40,1.4)(42,2.8)(43.5,3.8)(44.5,4.15)(45.5,4.0)(47,3.0)(48.5,1.5)(50,0.4)(51.5,0)(54,0)(58,0.05)(65,0.03)(80,0)(100,0)};
\addplot[cv,c8] coordinates {(0,0)(10,-0.02)(20,-0.05)(30,-0.05)(37,0)(40,0.15)(42.5,0.6)(44.5,1.5)(46,2.8)(47.3,4.0)(48.5,4.82)(49.5,4.5)(50.5,3.2)(51.5,1.6)(52.5,0.5)(53.5,0.05)(55,0)(100,0)};
\addplot[cv,c9] coordinates {(0,0)(10,-0.02)(18,-0.05)(22,-0.05)(24,0)(26,0.2)(29,0.45)(32,0.7)(35,0.9)(38,1.15)(40.5,1.55)(43,2.1)(45,2.75)(46.5,3.3)(48,3.65)(49.2,3.4)(50.4,2.5)(51.6,1.3)(52.7,0.4)(54,0.05)(56,0)(60,-0.05)(65,0)(100,0)};
\addplot[cv,c10] coordinates {(0,0)(10,-0.02)(20,-0.04)(30,-0.05)(38,0)(40,0.15)(42,0.5)(44,1.1)(45.5,1.8)(47,2.6)(48,2.88)(49.2,2.7)(50.5,2.1)(52,0.9)(53.5,0.2)(55,-0.02)(57,-0.05)(60,0)(100,0)};
\end{axis}

\begin{axis}[tp, tx, at={(453pt,288pt)}, anchor=south west, ymin=-1, ymax=5, hide y axis]
\addplot[bar] coordinates {(55.4,-1)(59.4,-1)(59.4,5)(55.4,5)} -- cycle;
\addplot[zl] coordinates {(-2,0)(103,0)};
\addplot[cv,c1] coordinates {(0,0)(5,-0.02)(15,-0.05)(25,-0.05)(32,-0.02)(37,0)(41,0.08)(45,0.25)(48.5,0.6)(51,1.1)(53,1.45)(55,1.6)(56.5,1.2)(58,0.45)(59.5,0.05)(61,-0.05)(65,0)(100,0)};
\addplot[cv,c2] coordinates {(0,0)(5,-0.02)(15,-0.04)(25,-0.05)(32,-0.02)(37,0)(41,0.08)(45,0.25)(48.5,0.65)(51,1.2)(53,1.6)(55,1.7)(56.5,1.3)(58,0.5)(59.5,0.05)(61,-0.03)(65,0)(100,0)};
\addplot[cv,c3] coordinates {(0,0)(5,-0.02)(15,-0.05)(25,-0.05)(32,-0.05)(37,-0.1)(40,-0.25)(43.5,-0.42)(46,-0.25)(48,0.2)(50,0.8)(52,1.4)(54,1.8)(55,1.85)(56.5,1.3)(58,0.4)(59.5,0)(62,-0.03)(66,0)(100,0)};
\addplot[cv,c4] coordinates {(0,0)(5,-0.02)(15,-0.05)(25,-0.05)(32,-0.02)(37,0)(41,0.1)(44.5,0.35)(48,0.8)(50.5,1.5)(52.5,2.0)(53.5,2.05)(55,1.6)(56.5,0.7)(58,0)(59.5,-0.12)(61,-0.05)(65,0)(100,0)};
\addplot[cv,c5] coordinates {(0,0)(5,-0.03)(15,-0.06)(25,-0.05)(32,-0.02)(37,0)(41,0.12)(44.5,0.4)(48,0.9)(50.5,1.6)(52.5,2.02)(53.5,2.05)(55,1.55)(56.5,0.6)(58,-0.05)(59.5,-0.1)(61,-0.05)(65,0)(100,0)};
\addplot[cv,c6] coordinates {(0,0)(5,-0.05)(10,-0.1)(15,-0.1)(20,-0.08)(25,-0.05)(32,-0.02)(37,0)(41,0.1)(45,0.3)(48.5,0.7)(51,1.25)(53,1.6)(54.5,1.7)(56,1.3)(57.5,0.5)(59,0)(61,-0.05)(65,0)(100,0)};
\addplot[cv,c7] coordinates {(0,0)(5,-0.02)(15,-0.05)(25,-0.05)(32,-0.02)(37,0)(41,0.1)(45,0.3)(48.5,0.7)(51,1.3)(53,1.85)(54.5,2.0)(56,1.5)(57.5,0.6)(59,0.05)(61,-0.05)(65,0)(100,0)};
\addplot[cv,c8] coordinates {(0,0)(5,-0.02)(15,-0.05)(25,-0.05)(32,-0.02)(37,0)(41,0.1)(45,0.3)(48.5,0.6)(51,0.9)(53,1.1)(55.5,1.3)(57,1.0)(58.5,0.35)(60,0)(62,-0.03)(66,0)(100,0)};
\addplot[cv,c9] coordinates {(0,0)(5,-0.02)(15,-0.04)(25,-0.05)(32,-0.02)(37,0)(41,0.1)(45,0.3)(48.5,0.7)(51,1.25)(53,1.75)(55,1.98)(56.5,1.5)(58,0.55)(59.5,0.05)(61,-0.04)(65,0)(100,0)};
\addplot[cv,c10] coordinates {(0,0)(5,-0.02)(15,-0.04)(25,-0.05)(32,-0.02)(37,0)(41,0.1)(45,0.32)(48.5,0.75)(51,1.3)(53,1.65)(55.5,1.85)(57,1.4)(58.5,0.5)(60,0.03)(62,-0.03)(66,0)(100,0)};
\end{axis}

\begin{axis}[tp, tx, at={(635pt,288pt)}, anchor=south west, ymin=-1, ymax=5, hide y axis]
\addplot[bar] coordinates {(53.7,-1)(59.9,-1)(59.9,5)(53.7,5)} -- cycle;
\addplot[zl] coordinates {(-2,0)(103,0)};
\addplot[cv,c1] coordinates {(0,0)(10,-0.02)(18,-0.03)(22,0)(26,0.03)(30,0.06)(35,0.12)(39,0.18)(42,0.2)(45,0.12)(47,0)(49,-0.05)(51,-0.02)(54,0)(100,0)};
\addplot[cv,c2] coordinates {(0,0)(10,-0.02)(18,-0.03)(22,0)(26,0.03)(30,0.06)(35,0.12)(39,0.17)(42,0.2)(45,0.14)(47.5,0.03)(50,-0.05)(52,-0.02)(55,0)(100,0)};
\addplot[cv,c3] coordinates {(0,0)(10,-0.02)(18,-0.03)(22,0)(26,0.05)(30,0.1)(35,0.13)(40,0.15)(43,0.1)(45,0.05)(48,-0.05)(51,-0.02)(54,0)(100,0)};
\addplot[cv,c4] coordinates {(0,0)(10,-0.02)(18,-0.03)(22,0.02)(26,0.07)(30,0.12)(35,0.2)(40,0.25)(43,0.2)(45,0.12)(48,-0.05)(51,-0.02)(54,0)(100,0)};
\addplot[cv,c5] coordinates {(0,0)(10,-0.02)(16,-0.03)(20,0.05)(24,0.18)(28,0.3)(32,0.38)(36,0.45)(39,0.55)(41.5,0.61)(43.5,0.5)(45,0.3)(46.5,0)(47.5,-0.25)(48.5,-0.29)(50,-0.15)(52,-0.03)(55,0)(60,0.01)(100,0)};
\addplot[cv,c6] coordinates {(0,0)(10,-0.03)(18,-0.04)(22,0)(26,0.03)(30,0.05)(35,0.1)(41,0.15)(44,0.1)(46,0.03)(48,-0.08)(50,-0.1)(52,-0.03)(55,0)(100,0)};
\addplot[cv,c7] coordinates {(0,0)(10,-0.02)(18,-0.03)(22,0.02)(26,0.1)(30,0.2)(34,0.28)(38,0.35)(42,0.42)(44,0.38)(46,0.2)(48,0.03)(50,-0.05)(52,-0.02)(55,0)(100,0)};
\addplot[cv,c8] coordinates {(0,0)(10,-0.02)(18,-0.03)(22,0)(26,0.05)(30,0.1)(35,0.16)(39,0.2)(42,0.18)(44,0.08)(46,-0.1)(47.5,-0.2)(49,-0.15)(51,-0.05)(54,0)(100,0)};
\addplot[cv,c9] coordinates {(0,0)(10,-0.02)(18,-0.03)(22,0.02)(26,0.07)(30,0.15)(35,0.22)(40,0.3)(43,0.27)(45,0.18)(47,0.05)(49,-0.03)(52,0)(100,0)};
\addplot[cv,c10] coordinates {(0,0)(10,-0.02)(18,-0.03)(22,0.01)(26,0.05)(30,0.1)(35,0.17)(41,0.25)(44,0.18)(46,0.08)(48,-0.03)(50,-0.05)(53,0)(100,0)};
\end{axis}

\begin{axis}[tp, tx, at={(885pt,288pt)}, anchor=south west, ymin=-1, ymax=5, axis y line*=left, axis y line shift=13pt,
  ytick={-1,0,1,2,3,4,5}, yticklabels={-1,0,1,2,3,4,5}, ylabel={Power (W kg\textsuperscript{-1})}, ylab=-55pt]
\addplot[zl] coordinates {(0,0)(100,0)};
\addplot[black, line width=1.8pt, smooth, tension=0.4] coordinates {(0,-0.1)(10,-0.2)(17,-0.4)(22,-0.25)(27,0)(30,0.05)(34,-0.2)(38,-0.6)(41,-0.7)(43,-0.45)(46,1)(49,3)(52,4.1)(54,4.2)(56,3.7)(59,1.8)(62,0.3)(65,-0.25)(68,-0.2)(72,0)(78,0.05)(85,0)(100,-0.05)};
\addplot[black, line width=1.8pt, dash pattern=on 2pt off 2pt, smooth, tension=0.4] coordinates {(0,-0.1)(10,-0.2)(18,-0.25)(23,-0.2)(28,-0.2)(32,-0.3)(37,-0.4)(40,-0.6)(44,-0.85)(47,-0.4)(50,0.3)(53,1.5)(56,2.5)(58,2.4)(60,1.2)(63,0)(66,-0.1)(70,0)(100,-0.02)};
\end{axis}

% ================= ROW 4 : SCATTER =================
\begin{axis}[sc, at={(87pt,54pt)}, anchor=south west, ymin=0.4, ymax=1.0, axis y line shift=13pt,
  ytick={0.4,0.6,0.8,1.0}, yticklabels={0.4,0.6,0.8,1.0},
  ylabel={Peak torque\\magnitude (N m kg\textsuperscript{-1})}, ylab=-58pt, ylabel style={align=center}]
\addplot[rl] coordinates {(0.418,0.371)(0.822,0.983)};
\addplot[mk,c1] coordinates {(0.483,0.383)};
\addplot[mk,c2] coordinates {(0.524,0.396)};
\addplot[mk,c4] coordinates {(0.552,0.782)};
\addplot[mk,c6] coordinates {(0.578,0.620)};
\addplot[mk,c3] coordinates {(0.654,0.796)};
\addplot[mk,c8] coordinates {(0.647,0.905)};
\addplot[mk,c5] coordinates {(0.699,0.826)};
\addplot[mk,c9] coordinates {(0.709,0.815)};
\addplot[mk,c7] coordinates {(0.720,0.826)};
\addplot[mk,c10] coordinates {(0.708,0.571)};
\node[rbox, anchor=north west] at (rel axis cs:-0.027,1.0) {$R^2 = 0.49$\\$p = 0.03$};
\end{axis}

\begin{axis}[sc, at={(349pt,54pt)}, anchor=south west, ymin=40, ymax=55, axis y line shift=14pt,
  ytick={40,45,50,55}, yticklabels={40,45,50,55},
  ylabel={Peak torque\\time (\% stride)}, ylab=-58pt, ylabel style={align=center}]
\addplot[rl] coordinates {(0.382,54.2)(0.82,42.2)};
\addplot[mk,c1] coordinates {(0.474,51.1)};
\addplot[mk,c2] coordinates {(0.523,53.0)};
\addplot[mk,c4] coordinates {(0.547,49.0)};
\addplot[mk,c6] coordinates {(0.576,45.0)};
\addplot[mk,c3] coordinates {(0.656,48.2)};
\addplot[mk,c8] coordinates {(0.636,47.0)};
\addplot[mk,c5] coordinates {(0.692,46.0)};
\addplot[mk,c9] coordinates {(0.700,45.8)};
\addplot[mk,c10] coordinates {(0.708,47.2)};
\addplot[mk,c7] coordinates {(0.723,42.0)};
\node[rbox, anchor=north east] at (rel axis cs:1.027,1.0) {$R^2 = 0.58$\\$p = 0.01$};
\end{axis}

\begin{axis}[sc, at={(619pt,54pt)}, anchor=south west, width=149pt, ymin=1, ymax=5, axis y line shift=22pt,
  ytick={1,2,3,4,5}, yticklabels={1,2,3,4,5},
  ylabel={Peak power (W kg\textsuperscript{-1})}, ylab=-56pt]
\addplot[rl] coordinates {(0.379,1.09)(0.82,4.91)};
\addplot[mk,c1] coordinates {(0.478,1.68)};
\addplot[mk,c2] coordinates {(0.522,1.57)};
\addplot[mk,c4] coordinates {(0.551,3.83)};
\addplot[mk,c6] coordinates {(0.572,2.43)};
\addplot[mk,c3] coordinates {(0.645,2.96)};
\addplot[mk,c8] coordinates {(0.645,4.84)};
\addplot[mk,c5] coordinates {(0.696,4.25)};
\addplot[mk,c9] coordinates {(0.706,3.66)};
\addplot[mk,c10] coordinates {(0.700,2.88)};
\addplot[mk,c7] coordinates {(0.733,4.15)};
\node[rbox, anchor=north west] at (rel axis cs:-0.04,1.0) {$R^2 = 0.46$\\$p = 0.03$};
\end{axis}

\begin{axis}[sc, at={(880pt,54pt)}, anchor=south west, width=149pt, ymin=0, ymax=0.25, axis y line shift=10pt,
  ytick={0,0.05,0.1,0.15,0.2,0.25}, yticklabels={0,0.05,0.10,0.15,0.20,0.25},
  ylabel={Net work rate (J kg\textsuperscript{-1} s\textsuperscript{-1})}, ylab=-52pt]
\addplot[rl] coordinates {(0.418,-0.0126)(0.793,0.262)};
\addplot[brownl, line width=3pt, forget plot] coordinates {(0.498,0.047)(0.677,0.21)};
\addplot[mk,c1] coordinates {(0.4875,0.0374)};
\addplot[mk,c2] coordinates {(0.527,0.032)};
\addplot[mk,c4] coordinates {(0.552,0.116)};
\addplot[mk,c6] coordinates {(0.571,0.122)};
\addplot[mk,c8] coordinates {(0.654,0.168)};
\addplot[mk,c3] coordinates {(0.648,0.134)};
\addplot[mk,c5] coordinates {(0.695,0.168)};
\addplot[mk,c10] coordinates {(0.702,0.176)};
\addplot[mk,c9] coordinates {(0.708,0.214)};
\addplot[mk,c7] coordinates {(0.721,0.247)};
\node[rbox, anchor=north west] at (rel axis cs:-0.034,1.0) {$R^2 = 0.86$\\$p = 1\times 10^{-4}$};
\end{axis}
\end{tikzpicture}
\end{document}
